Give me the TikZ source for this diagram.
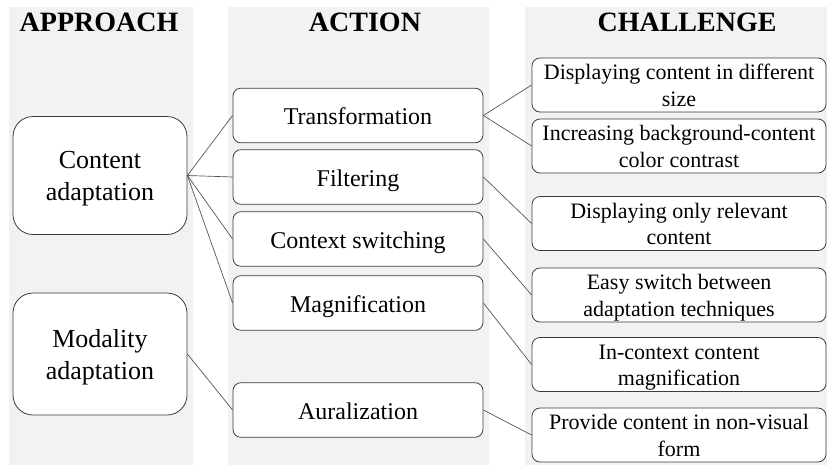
\documentclass[tikz,border=0pt]{standalone}
\usepackage{fontspec}
\setmainfont{Liberation Serif}
\definecolor{colbg}{HTML}{F2F2F2}
\definecolor{edge}{HTML}{3C3C3C}
\newcommand\twoline[3]{\rule{0pt}{#1}#2\\\smash{#3}}
\newcommand\oneline[2]{\rule{0pt}{#1}\smash{#2}}
\begin{document}
\begin{tikzpicture}[x=0.75pt,y=-0.75pt,
  title/.style={anchor=base,font={\fontsize{21}{24}\selectfont\bfseries}},
  appbox/.style={draw=edge,line width=0.6pt,fill=white,rounded corners=15pt,inner sep=0pt,
    minimum width=130.5pt,minimum height=88.5pt,align=center,font={\fontsize{19.5}{24}\selectfont}},
  actbox/.style={draw=edge,line width=0.6pt,fill=white,rounded corners=6pt,inner sep=0pt,
    minimum width=187.5pt,minimum height=41pt,align=center,font={\fontsize{18}{21}\selectfont}},
  chbox/.style={draw=edge,line width=0.6pt,fill=white,rounded corners=6pt,inner sep=0pt,
    minimum width=220.5pt,minimum height=40.5pt,align=center,font={\fontsize{16.5}{20}\selectfont}},
  conn/.style={draw=edge!90,line width=0.5pt}]
\useasboundingbox (0,0) rectangle (827,465);
\fill[white] (0,0) rectangle (827,465);
\fill[colbg] (9,7) rectangle (193,465);
\fill[colbg] (228,7) rectangle (489,465);
\fill[colbg] (525,7) rectangle (827,465);
\node[title] (t1) at (99,31) {APPROACH};
\node[title] (t2) at (365,31) {ACTION};
\node[title] (t3) at (687,31) {CHALLENGE};
% approach
\node[appbox] (ca) at (100,175.5) {\twoline{12.8pt}{Content}{adaptation}};
\node[appbox,minimum height=91.5pt] (ma) at (100,354) {\twoline{14pt}{Modality}{adaptation}};
% action
\node[actbox] (tr) at (358,115.5) {\oneline{13.5pt}{Transformation}};
\node[actbox] (fi) at (358,177) {\oneline{13.5pt}{Filtering}};
\node[actbox] (cs) at (358,239) {\oneline{13.5pt}{Context switching}};
\node[actbox] (mg) at (358,303) {\oneline{13.5pt}{Magnification}};
\node[actbox] (au) at (358,410) {\oneline{13.5pt}{Auralization}};
% challenge
\node[chbox] (c1) at (679,85) {\twoline{12pt}{Displaying content in different}{size}};
\node[chbox] (c2) at (679,146) {\twoline{12pt}{Increasing background-content}{color contrast}};
\node[chbox] (c3) at (679,223.5) {\twoline{12pt}{Displaying only relevant}{content}};
\node[chbox] (c4) at (679,295) {\twoline{12pt}{Easy switch between}{adaptation techniques}};
\node[chbox] (c5) at (679,364.5) {\twoline{12pt}{In-context content}{magnification}};
\node[chbox] (c6) at (679,435) {\twoline{12pt}{Provide content in non-visual}{form}};
% connectors
\draw[conn] (ca.east) -- (tr.west);
\draw[conn] (ca.east) -- (fi.west);
\draw[conn] (ca.east) -- (cs.west);
\draw[conn] (ca.east) -- (mg.west);
\draw[conn] (ma.east) -- (au.west);
\draw[conn] (tr.east) -- (c1.west);
\draw[conn] (tr.east) -- (c2.west);
\draw[conn] (fi.east) -- (c3.west);
\draw[conn] (cs.east) -- (c4.west);
\draw[conn] (mg.east) -- (c5.west);
\draw[conn] (au.east) -- (c6.west);
\end{tikzpicture}
\end{document}
